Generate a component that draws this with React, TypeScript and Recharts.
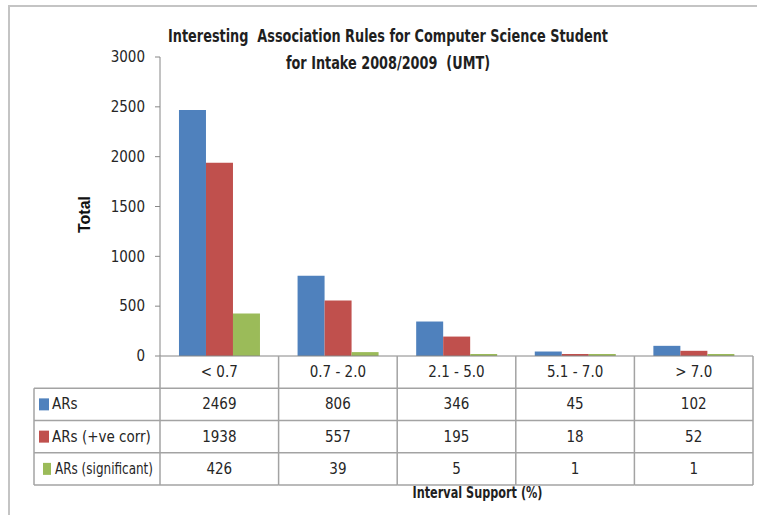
import { BarChart, Bar, XAxis, YAxis, Label } from "recharts";

const categories = ["< 0.7", "0.7 - 2.0", "2.1 - 5.0", "5.1 - 7.0", "> 7.0"];
const arsValues = [2469, 806, 346, 45, 102];
const arsPosCorrValues = [1938, 557, 195, 18, 52];
const arsSignificantValues = [426, 39, 5, 1, 1];
const yTicks = [0, 500, 1000, 1500, 2000, 2500, 3000];

const seriesList = [
  { key: "ars", name: "ARs", color: "#4F81BD", values: arsValues },
  { key: "pos", name: "ARs (+ve corr)", color: "#C0504D", values: arsPosCorrValues },
  { key: "sig", name: "ARs (significant)", color: "#9BBB59", values: arsSignificantValues },
];

const data = categories.map((category, i) => ({
  category,
  ars: arsValues[i],
  pos: arsPosCorrValues[i],
  sig: arsSignificantValues[i],
}));

// layout
const W = 757;
const H = 515;
const MARGIN = { top: 57, right: 4, left: 34, bottom: 0 };
const Y_AXIS_W = 126;
const X_AXIS_H = 159;
const BAND = (W - MARGIN.left - MARGIN.right - Y_AXIS_W) / categories.length;
const ROW_H = 32.25;
const TABLE_LEFT = 34;
const GRID = "#a3a3a3";
const FONT = "'DejaVu Sans Condensed', sans-serif";
const TEXT = "#262626";

function TableTick(props: any) {
  const { x, y, payload } = props;
  const i = payload.index;
  const left = x - BAND / 2;
  const right = x + BAND / 2;
  const bottom = y + 4 * ROW_H;
  return (
    <g fontFamily={FONT} fontSize={15} fill={TEXT}>
      <line x1={left} y1={y} x2={left} y2={bottom} stroke={GRID} strokeWidth={1.5} />
      {i === categories.length - 1 && (
        <line x1={right} y1={y} x2={right} y2={bottom} stroke={GRID} strokeWidth={1.5} />
      )}
      {[1, 2, 3, 4].map((r) => (
        <line key={r} x1={left} y1={y + r * ROW_H} x2={right} y2={y + r * ROW_H} stroke={GRID} strokeWidth={1.5} />
      ))}
      <text x={x} y={y + ROW_H / 2} textAnchor="middle" dominantBaseline="central">
        {payload.value}
      </text>
      {seriesList.map((s, r) => (
        <text key={s.key} x={x} y={y + (r + 1.5) * ROW_H} textAnchor="middle" dominantBaseline="central">
          {s.values[i]}
        </text>
      ))}
      {i === 0 && (
        <g>
          <line x1={TABLE_LEFT} y1={y + ROW_H} x2={TABLE_LEFT} y2={bottom} stroke={GRID} strokeWidth={1.5} />
          {[1, 2, 3, 4].map((r) => (
            <line key={r} x1={TABLE_LEFT} y1={y + r * ROW_H} x2={left} y2={y + r * ROW_H} stroke={GRID} strokeWidth={1.5} />
          ))}
          {seriesList.map((s, r) => {
            const cy = y + (r + 1.5) * ROW_H;
            const sx = r === 2 ? 43 : 39;
            const sw = r === 2 ? 8 : 10;
            return (
              <g key={s.key}>
                <rect x={sx} y={cy - 6} width={sw} height={12} fill={s.color} />
                {r === 2 ? (
                  <text x={55} y={cy} dominantBaseline="central" textLength={98} lengthAdjust="spacingAndGlyphs">
                    {s.name}
                  </text>
                ) : (
                  <text x={52} y={cy} dominantBaseline="central">
                    {s.name}
                  </text>
                )}
              </g>
            );
          })}
        </g>
      )}
    </g>
  );
}

const titleLine = {
  whiteSpace: "nowrap" as const,
  transform: "scaleX(0.84)",
  transformOrigin: "center",
};

export default function App() {
  return (
    <div style={{ position: "absolute", left: 0, top: 0, width: W, height: H, background: "#fff" }}>
      <div
        style={{
          position: "absolute",
          left: 8,
          top: 5,
          width: W,
          height: H,
          borderTop: "2px solid #c4c4c4",
          borderLeft: "2px solid #c4c4c4",
        }}
      />
      <div
        style={{
          position: "absolute",
          left: 0,
          width: 776,
          top: 23,
          textAlign: "center",
          fontFamily: FONT,
          fontWeight: "bold",
          fontSize: 17,
          lineHeight: "27px",
          color: "#1f1f1f",
        }}
      >
        <div style={titleLine}>Interesting&nbsp; Association Rules for Computer Science Student</div>
        <div style={titleLine}>for Intake 2008/2009&nbsp; (UMT)</div>
      </div>
      <div style={{ position: "absolute", left: 0, top: 0 }}>
        <BarChart width={W} height={H} data={data} margin={MARGIN} barCategoryGap="16%" barGap={0}>
          <YAxis
            width={Y_AXIS_W}
            domain={[0, 3000]}
            ticks={yTicks}
            interval={0}
            stroke="#868686"
            tickSize={5}
            tickMargin={10}
            tick={{ fill: TEXT, fontSize: 15, fontFamily: FONT }}
          >
            <Label
              content={(p: any) => {
                const vb = p.viewBox;
                const cx = vb.x + 50;
                const cy = vb.y + vb.height / 2 + 8;
                return (
                  <text
                    x={cx}
                    y={cy}
                    transform={`rotate(-90 ${cx} ${cy})`}
                    textAnchor="middle"
                    dominantBaseline="central"
                    fontFamily="'Liberation Sans', Arial, sans-serif"
                    fontWeight="bold"
                    fontSize={16}
                    fill="#111"
                  >
                    Total
                  </text>
                );
              }}
            />
          </YAxis>
          <XAxis
            dataKey="category"
            height={X_AXIS_H}
            interval={0}
            stroke="#868686"
            tickLine={false}
            tickSize={0}
            tickMargin={0}
            tick={<TableTick />}
          >
            <Label
              content={(p: any) => {
                const vb = p.viewBox;
                return (
                  <text
                    x={vb.x + vb.width / 2 + 21}
                    y={vb.y + 137}
                    textAnchor="middle"
                    dominantBaseline="central"
                    fontFamily={FONT}
                    fontWeight="bold"
                    fontSize={15}
                    textLength={130}
                    lengthAdjust="spacingAndGlyphs"
                    fill="#1f1f1f"
                  >
                    Interval Support (%)
                  </text>
                );
              }}
            />
          </XAxis>
          {seriesList.map((s) => (
            <Bar key={s.key} dataKey={s.key} name={s.name} fill={s.color} minPointSize={2} isAnimationActive={false} />
          ))}
        </BarChart>
      </div>
    </div>
  );
}
